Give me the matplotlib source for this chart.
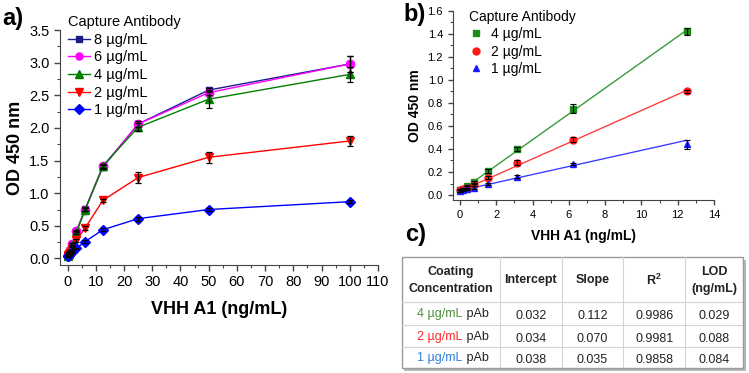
import matplotlib
matplotlib.use("Agg")
import matplotlib.pyplot as plt
from matplotlib.ticker import MultipleLocator
from matplotlib.patches import Rectangle

plt.rcParams['font.family'] = ['Liberation Sans', 'DejaVu Sans']

# ---- panel a data ----
conc = [0, 0.195, 0.39, 0.78, 1.5625, 3.125, 6.25, 12.5, 25, 50, 100]
od_8 = [0.04, 0.06, 0.085, 0.125, 0.22, 0.42, 0.76, 1.40, 2.06, 2.58, 2.98]
od_6 = [0.04, 0.06, 0.085, 0.125, 0.22, 0.42, 0.75, 1.41, 2.06, 2.54, 2.98]
od_4 = [0.04, 0.055, 0.075, 0.115, 0.21, 0.40, 0.75, 1.42, 2.01, 2.44, 2.82]
od_2 = [0.04, 0.05, 0.065, 0.09, 0.15, 0.28, 0.47, 0.89, 1.24, 1.55, 1.80]
od_1 = [0.035, 0.045, 0.05, 0.065, 0.095, 0.155, 0.26, 0.44, 0.61, 0.75, 0.87]
err_8 = [0.01, 0.01, 0.01, 0.01, 0.02, 0.02, 0.03, 0.03, 0.05, 0.03, 0.12]
err_6 = [0.01, 0.01, 0.01, 0.01, 0.02, 0.02, 0.03, 0.03, 0.04, 0.04, 0.12]
err_4 = [0.01, 0.01, 0.01, 0.01, 0.02, 0.02, 0.03, 0.03, 0.06, 0.13, 0.11]
err_2 = [0.01, 0.01, 0.01, 0.01, 0.02, 0.02, 0.03, 0.02, 0.09, 0.08, 0.08]
err_1 = [0.01, 0.01, 0.01, 0.01, 0.01, 0.01, 0.02, 0.02, 0.03, 0.02, 0.02]

# ---- panel b data ----
conc_b = [0, 0.195, 0.39, 0.78, 1.5625, 3.125, 6.25, 12.5]
b_4 = [0.04, 0.055, 0.075, 0.115, 0.21, 0.40, 0.75, 1.42]
b_2 = [0.04, 0.05, 0.065, 0.085, 0.15, 0.28, 0.48, 0.90]
b_1 = [0.035, 0.045, 0.05, 0.065, 0.095, 0.16, 0.27, 0.44]
berr_4 = [0.01, 0.01, 0.01, 0.01, 0.015, 0.02, 0.04, 0.03]
berr_2 = [0.01, 0.01, 0.01, 0.01, 0.015, 0.02, 0.02, 0.015]
berr_1 = [0.01, 0.01, 0.01, 0.01, 0.01, 0.01, 0.01, 0.04]

# ---- table c ----
coat_conc = ["4 µg/mL", "2 µg/mL", "1 µg/mL"]
coat_colors = ["#4e8f3a", "#ff2a2a", "#2f80d8"]
intercept = [0.032, 0.034, 0.038]
slope = [0.112, 0.070, 0.035]
r2 = [0.9986, 0.9981, 0.9858]
lod = [0.029, 0.088, 0.084]
headers = ["Coating\nConcentration", "Intercept", "Slope", "R$^\\mathregular{2}$", "LOD\n(ng/mL)"]

W, H = 749, 373
fig = plt.figure(figsize=(W / 100, H / 100), dpi=100)

def fx(px):
    return px / W

def fy(py):
    return 1 - py / H

# ================= panel a =================
axa = fig.add_axes([fx(60), fy(265), fx(378) - fx(60), fy(30) - fy(265)])
series_a = [
    ("8 µg/mL", od_8, err_8, "#1c1c8a", "s", 5),
    ("6 µg/mL", od_6, err_6, "#ff00ff", "o", 6),
    ("4 µg/mL", od_4, err_4, "#008000", "^", 6),
    ("2 µg/mL", od_2, err_2, "#ff0000", "v", 6),
    ("1 µg/mL", od_1, err_1, "#0000ff", "D", 5.5),
]
for lab, y, e, c, m, ms in series_a:
    axa.errorbar(conc, y, yerr=e, fmt="none", ecolor="black", elinewidth=0.9, capsize=2.2, capthick=0.9, zorder=3)
    axa.plot(conc, y, color=c, marker=m, markersize=ms, lw=1.0, label=lab, zorder=2)

axa.set_xlim(-2.7, 110)
axa.set_ylim(-0.1, 3.5)
axa.xaxis.set_major_locator(MultipleLocator(10))
axa.xaxis.set_minor_locator(MultipleLocator(5))
axa.yaxis.set_major_locator(MultipleLocator(0.5))
axa.yaxis.set_minor_locator(MultipleLocator(0.25))
axa.yaxis.set_major_formatter(plt.FuncFormatter(lambda v, p: f"{v:.1f}"))
for s in ["top", "right"]:
    axa.spines[s].set_visible(False)
for s in ["left", "bottom"]:
    axa.spines[s].set_color("#444444")
axa.tick_params(which="major", direction="out", length=4, width=1, labelsize=10.5, colors="#444444", labelcolor="black")
axa.tick_params(which="minor", direction="out", length=2.5, width=0.8, colors="#444444")
axa.set_xlabel("VHH A1 (ng/mL)", fontsize=13, fontweight="bold", labelpad=8)
axa.set_ylabel("OD 450 nm", fontsize=13, fontweight="bold", labelpad=4)
leg = axa.legend(title="Capture Antibody", loc="upper left", bbox_to_anchor=(fx(58), fy(5)),
                 bbox_transform=fig.transFigure, frameon=False, fontsize=10.5, title_fontsize=10.5,
                 handlelength=1.5, handletextpad=0.3, labelspacing=0.25, borderpad=0.2,
                 alignment="left", markerscale=0.85)

# ================= panel b =================
axb = fig.add_axes([fx(452.7), fy(200), fx(714) - fx(452.7), fy(10.7) - fy(200)])
series_b = [
    ("4 µg/mL", b_4, berr_4, intercept[0], slope[0], "#1a8c1a", "#3a9a3a", "s", 4.5),
    ("2 µg/mL", b_2, berr_2, intercept[1], slope[1], "#ff1a1a", "#ff4040", "o", 5),
    ("1 µg/mL", b_1, berr_1, intercept[2], slope[2], "#1a1aff", "#4040ff", "^", 5),
]
for lab, y, e, b0, b1, c, lc, m, ms in series_b:
    xfit = [conc_b[0], conc_b[-1]]
    axb.plot(xfit, [b0 + b1 * xv for xv in xfit], color=lc, lw=1.0, zorder=1)
    axb.errorbar(conc_b, y, yerr=e, fmt="none", ecolor="black", elinewidth=0.8, capsize=2, capthick=0.8, zorder=3)
    axb.plot(conc_b, y, ls="none", color=c, marker=m, markersize=ms, label=lab, zorder=2)

axb.set_xlim(-0.4, 14)
axb.set_ylim(-0.043, 1.6)
axb.xaxis.set_major_locator(MultipleLocator(2))
axb.xaxis.set_minor_locator(MultipleLocator(1))
axb.yaxis.set_major_locator(MultipleLocator(0.2))
axb.yaxis.set_minor_locator(MultipleLocator(0.1))
axb.yaxis.set_major_formatter(plt.FuncFormatter(lambda v, p: f"{v:.1f}"))
for s in ["top", "right"]:
    axb.spines[s].set_visible(False)
for s in ["left", "bottom"]:
    axb.spines[s].set_color("#444444")
axb.tick_params(which="major", direction="out", length=3.5, width=1, labelsize=8, colors="#444444", labelcolor="black")
axb.tick_params(which="minor", direction="out", length=2, width=0.8, colors="#444444")
axb.set_xlabel("VHH A1 (ng/mL)", fontsize=10, fontweight="bold", labelpad=7)
axb.set_ylabel("OD 450 nm", fontsize=10, fontweight="bold", labelpad=4)
axb.legend(title="Capture Antibody", loc="upper left", bbox_to_anchor=(fx(459), fy(0)),
           bbox_transform=fig.transFigure, frameon=False, fontsize=10, title_fontsize=10,
           handlelength=1.0, handletextpad=0.6, labelspacing=0.25, borderpad=0.2,
           alignment="left")

# panel labels
fig.text(fx(2), fy(18), "a)", fontsize=17, fontweight="bold", va="center", ha="left")
fig.text(fx(403), fy(14), "b)", fontsize=17, fontweight="bold", va="center", ha="left")
fig.text(fx(405), fy(234), "c)", fontsize=17, fontweight="bold", va="center", ha="left")

# ================= table c =================
tl, tr, tt, tb = 401.7, 743.3, 257, 368
axt = fig.add_axes([fx(tl), fy(tb), fx(tr) - fx(tl), fy(tt) - fy(tb)])
tw, th = tr - tl, tb - tt
axt.set_xlim(0, tw)
axt.set_ylim(th, 0)
axt.axis("off")
col_edges = [0, 98.3, 160, 221.6, 283.3, tw]
row_edges = [0, 45, 67.8, 89.8, th]

# drop shadow and background
axt.add_patch(Rectangle((2.5, 2.5), tw, th, facecolor="#b8b8b8", edgecolor="none", zorder=0, clip_on=False))
axt.add_patch(Rectangle((0, 0), tw, th, facecolor="white", edgecolor="#9a9a9a", lw=1.0, zorder=1, clip_on=False))
for xe in col_edges[1:-1]:
    axt.plot([xe, xe], [0, th], color="#d4d4d4", lw=0.8, zorder=2)
for ye in row_edges[1:-1]:
    axt.plot([0, tw], [ye, ye], color="#d4d4d4", lw=0.8, zorder=2)

centers = [(col_edges[i] + col_edges[i + 1]) / 2 for i in range(5)]
for i, hdr in enumerate(headers):
    axt.text(centers[i], row_edges[1] / 2 + 1, hdr, ha="center", va="center", fontsize=9,
             fontweight="bold", color="#222222", linespacing=1.6, zorder=3)

for r in range(3):
    yc = (row_edges[r + 1] + row_edges[r + 2]) / 2 + 1
    t1 = axt.text(centers[0] + 12, yc, coat_conc[r], ha="right", va="center", fontsize=9,
                  color=coat_colors[r], zorder=3)
    axt.annotate(" pAb", xy=(1, 0.5), xycoords=t1, ha="left", va="center", fontsize=9,
                 color="#222222", zorder=3)
    vals = [f"{intercept[r]:.3f}", f"{slope[r]:.3f}", f"{r2[r]:.4f}", f"{lod[r]:.3f}"]
    for j, v in enumerate(vals):
        axt.text(centers[j + 1], yc + 2, v, ha="center", va="center", fontsize=9,
                 color="#222222", zorder=3)

fig.savefig("out.png", dpi=100)
